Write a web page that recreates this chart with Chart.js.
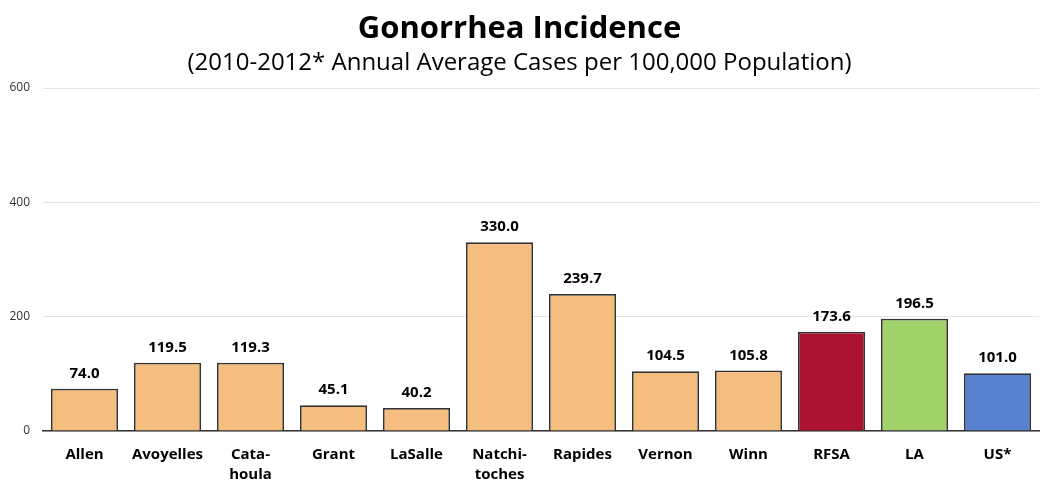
<!DOCTYPE html>
<html>
<head>
<meta charset="utf-8">
<script src="https://cdn.jsdelivr.net/npm/chart.js@4"></script>
<style>
  html, body { margin: 0; padding: 0; background: #fff; }
  #wrap { width: 1042px; height: 481px; }
</style>
</head>
<body>
<div id="wrap"><canvas id="chart"></canvas></div>
<script>
const categories = ['Allen', 'Avoyelles', ['Cata-', 'houla'], 'Grant', 'LaSalle', ['Natchi-', 'toches'], 'Rapides', 'Vernon', 'Winn', 'RFSA', 'LA', 'US*'];
const rates = [74.0, 119.5, 119.3, 45.1, 40.2, 330.0, 239.7, 104.5, 105.8, 173.6, 196.5, 101.0];
const barColors = ['#f5be7e', '#f5be7e', '#f5be7e', '#f5be7e', '#f5be7e', '#f5be7e', '#f5be7e', '#f5be7e', '#f5be7e', '#ad1230', '#a1d36a', '#5882d0'];
const yTicks = [0, 200, 400, 600];

const FONT = "'Open Sans', 'Noto Sans', sans-serif";

// value labels above each bar
const valueLabels = {
  id: 'valueLabels',
  afterDatasetsDraw(chart) {
    const ctx = chart.ctx;
    const meta = chart.getDatasetMeta(0);
    ctx.save();
    ctx.font = 'bold 15px ' + FONT;
    ctx.fillStyle = '#000';
    ctx.textAlign = 'center';
    ctx.textBaseline = 'alphabetic';
    meta.data.forEach((bar, i) => {
      ctx.fillText(rates[i].toFixed(1), bar.x, bar.y - 11);
    });
    ctx.restore();
  }
};

new Chart(document.getElementById('chart'), {
  type: 'bar',
  data: {
    labels: categories,
    datasets: [{
      data: rates,
      backgroundColor: barColors,
      borderColor: '#333',
      borderWidth: 1.8,
      categoryPercentage: 1,
      barPercentage: 0.81
    }]
  },
  options: {
    responsive: true,
    maintainAspectRatio: false,
    animation: false,
    layout: { padding: { left: 0, right: 3, top: 0, bottom: 0 } },
    plugins: {
      legend: { display: false },
      tooltip: { enabled: false },
      title: {
        display: true,
        text: 'Gonorrhea Incidence',
        color: '#000',
        font: { family: FONT, size: 31, weight: 'bold' },
        padding: { top: 11, bottom: 0 }
      },
      subtitle: {
        display: true,
        text: '(2010-2012* Annual Average Cases per 100,000 Population)',
        color: '#000',
        font: { family: FONT, size: 24 },
        padding: { top: 1, bottom: 10 }
      }
    },
    scales: {
      x: {
        grid: { display: false },
        border: { color: '#333', width: 1.5 },
        afterFit(axis) {
          axis.height = 50;
        },
        ticks: {
          color: '#000',
          font: { family: FONT, size: 15, weight: 'bold', lineHeight: 1.3 },
          padding: 6,
          maxRotation: 0,
          autoSkip: false
        }
      },
      y: {
        min: 0,
        max: 600,
        afterBuildTicks(axis) {
          axis.ticks = yTicks.map(v => ({ value: v }));
        },
        afterFit(axis) {
          axis.width = 43;
        },
        grid: { color: '#e4e4e4', drawTicks: false },
        border: { display: false },
        ticks: {
          color: '#333',
          font: { family: FONT, size: 12 },
          padding: 13
        }
      }
    }
  },
  plugins: [valueLabels]
});
</script>
</body>
</html>
